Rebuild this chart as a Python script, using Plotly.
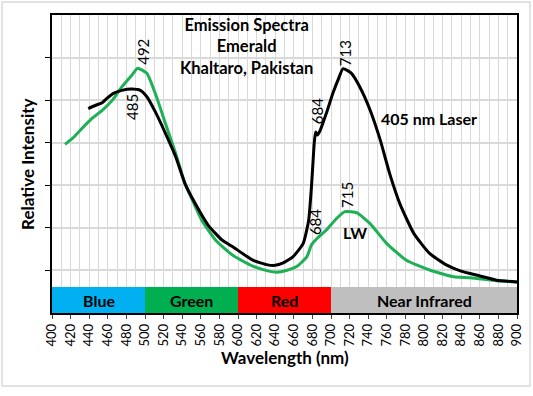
import plotly.graph_objects as go

# 405 nm laser excitation (black)
laser_nm = [439, 447, 454, 459, 466, 475, 486, 495, 502, 511, 522, 533, 543, 554, 568, 583, 594,
            616, 632, 640, 648, 659, 670, 676, 679, 681, 682, 683.5, 685.5, 688, 695, 702, 708, 713,
            722, 731, 742, 753, 763, 774, 789, 806, 824, 839, 860, 878, 900]
laser_int = [4.80, 4.88, 4.94, 5.04, 5.16, 5.23, 5.26, 5.23, 5.08, 4.73, 4.22, 3.67, 3.04, 2.57, 2.06, 1.71, 1.56,
             1.24, 1.13, 1.12, 1.17, 1.32, 1.63, 2.18, 2.97, 3.67, 4.00, 4.25, 4.18, 4.27, 4.69, 5.16, 5.50, 5.74,
             5.63, 5.31, 4.77, 4.06, 3.28, 2.57, 1.87, 1.40, 1.13, 0.99, 0.87, 0.77, 0.73]

# Long-wave UV excitation (green)
lw_nm = [414, 422, 432, 443, 454, 465, 475, 486, 492, 502, 511, 522, 533, 543, 551, 561, 576, 594,
         616, 632, 642, 652, 663, 674, 679, 685, 695, 706, 715, 728, 742, 760, 781, 806, 832, 850, 878, 900]
lw_int = [3.96, 4.10, 4.33, 4.57, 4.76, 5.00, 5.31, 5.59, 5.75, 5.63, 5.16, 4.45, 3.75, 3.04, 2.65, 2.18, 1.71, 1.36,
          1.10, 0.99, 0.96, 1.00, 1.09, 1.32, 1.60, 1.75, 1.95, 2.22, 2.38, 2.35, 2.10, 1.63, 1.24, 1.01, 0.85, 0.83, 0.76, 0.73]

band_names = ["Blue", "Green", "Red", "Near Infrared"]
band_start = [400, 500, 600, 700]
band_end = [500, 600, 700, 900]
band_colors = ["#00B0F0", "#00B050", "#FF0000", "#BFBFBF"]
band_top = 0.61

x_ticks = list(range(400, 901, 20))

peak_labels = [
    ("492", 497, 6.14),
    ("485", 486, 4.84),
    ("713", 715, 6.10),
    ("684", 685, 4.74),
    ("684", 683, 2.14),
    ("715", 717, 2.77),
]

FONT = "Lato"

fig = go.Figure()
fig.add_trace(go.Scatter(x=lw_nm, y=lw_int, mode="lines", line=dict(color="#1DB054", width=3, shape="spline", smoothing=0.5),
                         showlegend=False))
fig.add_trace(go.Scatter(x=laser_nm, y=laser_int, mode="lines", line=dict(color="black", width=3, shape="spline", smoothing=0.5),
                         showlegend=False))

for name, s, e, c in zip(band_names, band_start, band_end, band_colors):
    fig.add_shape(type="rect", x0=s, x1=e, y0=0, y1=band_top, fillcolor=c, line=dict(width=0), layer="between")
    fig.add_annotation(x=(s + e) / 2, y=band_top / 2, text="<b>" + name + "</b>", showarrow=False,
                       font=dict(family=FONT, size=16, color="black"))

for txt, x, y in peak_labels:
    fig.add_annotation(x=x, y=y, text=txt, textangle=-90, showarrow=False,
                       font=dict(family=FONT, size=15, color="black"))

fig.add_annotation(x=805, y=4.58, text="<b>405 nm Laser</b>", showarrow=False, font=dict(family=FONT, size=16, color="black"))
fig.add_annotation(x=726, y=1.88, text="<b>LW</b>", showarrow=False, font=dict(family=FONT, size=16, color="black"))
fig.add_annotation(x=609, y=6.27, text="<b>Emission Spectra<br>Emerald<br>Khaltaro, Pakistan</b>", showarrow=False,
                   align="center", yanchor="middle", font=dict(family=FONT, size=16.5, color="black"))

# axis titles
fig.add_annotation(xref="paper", yref="paper", x=0.5, y=-0.148, text="<b>Wavelength (nm)</b>", showarrow=False,
                   xanchor="center", yanchor="middle", font=dict(family=FONT, size=17, color="black"))
fig.add_annotation(xref="paper", yref="paper", x=-0.0516, y=0.497, text="<b>Relative Intensity</b>", textangle=-90,
                   xanchor="center", yanchor="middle", showarrow=False, font=dict(family=FONT, size=17, color="black"))

# outer light border
fig.add_shape(type="rect", xref="paper", yref="paper", x0=-0.1075, x1=1.028, y0=-0.245, y1=1.0436,
              line=dict(color="#D9D9D9", width=1.5), fillcolor="rgba(0,0,0,0)", layer="below")

fig.update_xaxes(range=[400, 900], tickvals=x_ticks, tickangle=-90, ticks="outside", ticklen=4, tickcolor="#444",
                 showgrid=True, gridcolor="#D9D9D9", gridwidth=1, automargin=False,
                 minor=dict(dtick=10, showgrid=True, gridcolor="#D9D9D9"),
                 showline=True, linecolor="black", linewidth=1.5, mirror=True,
                 tickfont=dict(family=FONT, size=13, color="black"))
fig.update_yaxes(range=[0, 7], tickvals=[1, 2, 3, 4, 5, 6], showticklabels=False, ticks="outside", ticklen=5,
                 tickcolor="black", showgrid=True, gridcolor="#D9D9D9", gridwidth=1.5, zeroline=False, automargin=False,
                 showline=True, linecolor="black", linewidth=1.5, mirror=True)

fig.update_layout(width=533, height=396, margin=dict(l=52, r=16, t=15, b=83),
                  plot_bgcolor="white", paper_bgcolor="white")

fig.write_html("out.html", config={"displayModeBar": False}, post_script="document.body.style.margin='0';")
